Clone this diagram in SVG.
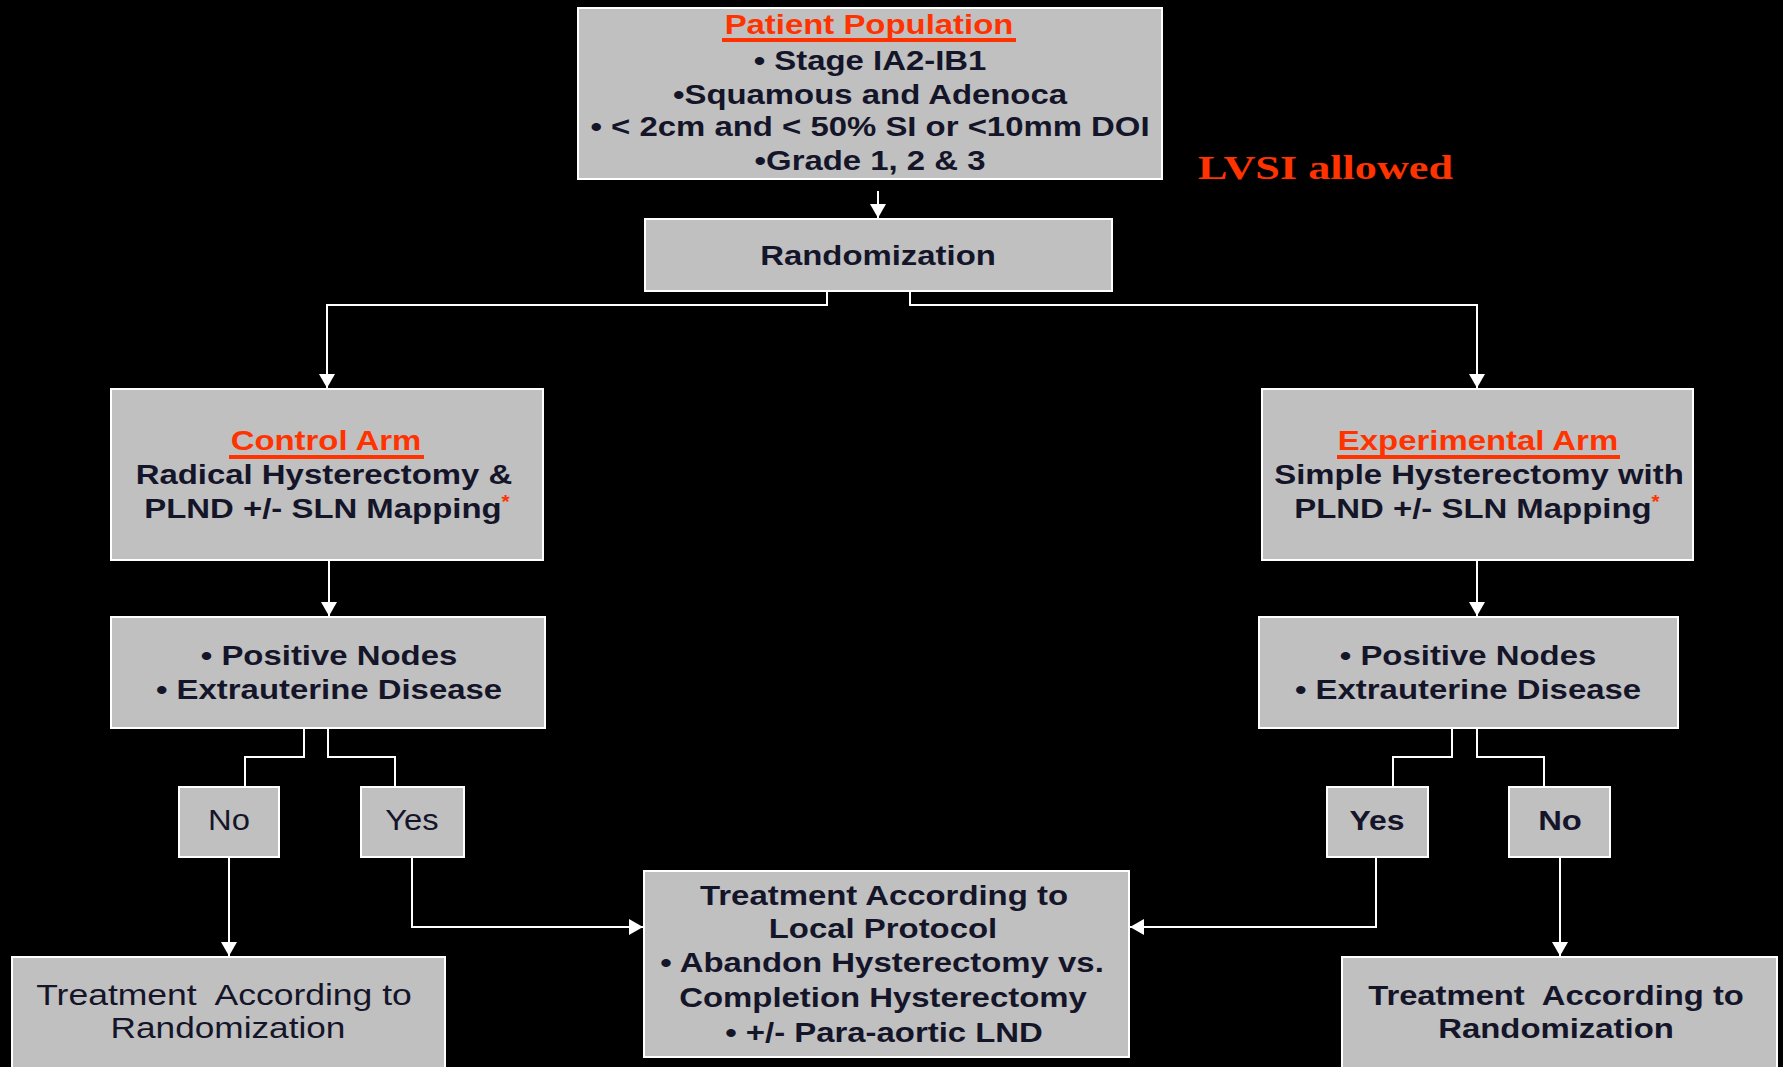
<svg xmlns="http://www.w3.org/2000/svg" width="1783" height="1067" viewBox="0 0 1783 1067">
<defs>
<marker id="arr" markerUnits="userSpaceOnUse" markerWidth="16" markerHeight="16" refX="14" refY="8" orient="auto">
<path d="M0,0 L14,8 L0,16 z" fill="#ffffff"/>
</marker>
<style>
.box{fill:#c0c0c0;stroke:#ffffff;stroke-width:2}
.b{font-family:"Liberation Sans",Arial,sans-serif;font-weight:bold;font-size:28.5px;fill:#15152a;text-anchor:middle}
.r{font-family:"Liberation Sans",Arial,sans-serif;font-weight:normal;font-size:29px;fill:#15152a;text-anchor:middle;white-space:pre}
.red{fill:#ff3300}
.ul{stroke:#ff3300;stroke-width:4}
.ast{fill:#ff3300;font-size:18px}
.con{fill:none;stroke:#ffffff;stroke-width:2}
.lvsi{font-family:"Liberation Serif","Times New Roman",serif;font-weight:bold;font-size:33px;fill:#ff3300}
</style>
</defs>
<rect x="0" y="0" width="1783" height="1067" fill="#000000"/>

<g id="connectors">
<path class="con" d="M878 191 V218" marker-end="url(#arr)"/>
<path class="con" d="M827 291 V305 H327 V388" marker-end="url(#arr)"/>
<path class="con" d="M910 291 V305 H1477 V388" marker-end="url(#arr)"/>
<path class="con" d="M329 560 V616" marker-end="url(#arr)"/>
<path class="con" d="M1477 560 V616" marker-end="url(#arr)"/>
<path class="con" d="M304 728 V757 H245 V787"/>
<path class="con" d="M328 728 V757 H395 V787"/>
<path class="con" d="M1452 728 V757 H1393 V787"/>
<path class="con" d="M1477 728 V757 H1544 V787"/>
<path class="con" d="M229 857 V956" marker-end="url(#arr)"/>
<path class="con" d="M412 857 V927 H643" marker-end="url(#arr)"/>
<path class="con" d="M1376 857 V927 H1130" marker-end="url(#arr)"/>
<path class="con" d="M1560 857 V956" marker-end="url(#arr)"/>
</g>

<g id="patient-population">
<rect class="box" x="578" y="8" width="584" height="171"/>
<text class="b red" transform="translate(869 34) scale(1.155 1)">Patient Population</text>
<line class="ul" x1="722" y1="40" x2="1016" y2="40"/>
<text class="b" transform="translate(870 70) scale(1.155 1)">• Stage IA2-IB1</text>
<text class="b" transform="translate(870 104) scale(1.155 1)">•Squamous and Adenoca</text>
<text class="b" transform="translate(870 136) scale(1.155 1)">• &lt; 2cm and &lt; 50% SI or &lt;10mm DOI</text>
<text class="b" transform="translate(870 170) scale(1.155 1)">•Grade 1, 2 &amp; 3</text>
</g>

<g id="lvsi-note">
<text class="lvsi" x="1198" y="179" textLength="255" lengthAdjust="spacingAndGlyphs">LVSI allowed</text>
</g>

<g id="randomization">
<rect class="box" x="645" y="219" width="467" height="72"/>
<text class="b" transform="translate(878 265) scale(1.155 1)">Randomization</text>
</g>

<g id="control-arm">
<rect class="box" x="111" y="389" width="432" height="171"/>
<text class="b red" transform="translate(326 450) scale(1.155 1)">Control Arm</text>
<line class="ul" x1="229" y1="457" x2="424" y2="457"/>
<text class="b" transform="translate(324 484) scale(1.155 1)">Radical Hysterectomy &amp;</text>
<text class="b" transform="translate(327 518) scale(1.155 1)">PLND +/- SLN Mapping<tspan class="ast" dy="-10">*</tspan></text>
</g>

<g id="experimental-arm">
<rect class="box" x="1262" y="389" width="431" height="171"/>
<text class="b red" transform="translate(1478 450) scale(1.155 1)">Experimental Arm</text>
<line class="ul" x1="1337" y1="457" x2="1620" y2="457"/>
<text class="b" transform="translate(1479 484) scale(1.155 1)">Simple Hysterectomy with</text>
<text class="b" transform="translate(1477 518) scale(1.155 1)">PLND +/- SLN Mapping<tspan class="ast" dy="-10">*</tspan></text>
</g>

<g id="positive-left">
<rect class="box" x="111" y="617" width="434" height="111"/>
<text class="b" transform="translate(329 665) scale(1.155 1)">• Positive Nodes</text>
<text class="b" transform="translate(329 699) scale(1.155 1)">• Extrauterine Disease</text>
</g>

<g id="positive-right">
<rect class="box" x="1259" y="617" width="419" height="111"/>
<text class="b" transform="translate(1468 665) scale(1.155 1)">• Positive Nodes</text>
<text class="b" transform="translate(1468 699) scale(1.155 1)">• Extrauterine Disease</text>
</g>

<g id="no-left">
<rect class="box" x="179" y="787" width="100" height="70"/>
<text class="r" transform="translate(229 830) scale(1.13 1)">No</text>
</g>

<g id="yes-left">
<rect class="box" x="361" y="787" width="103" height="70"/>
<text class="r" transform="translate(412 830) scale(1.13 1)">Yes</text>
</g>

<g id="yes-right">
<rect class="box" x="1327" y="787" width="101" height="70"/>
<text class="b" transform="translate(1377 830) scale(1.12 1)">Yes</text>
</g>

<g id="no-right">
<rect class="box" x="1509" y="787" width="101" height="70"/>
<text class="b" transform="translate(1560 830) scale(1.15 1)">No</text>
</g>

<g id="treatment-left">
<rect class="box" x="12" y="957" width="433" height="120"/>
<text class="r" transform="translate(224 1005) scale(1.225 1)">Treatment  According to</text>
<text class="r" transform="translate(228 1038) scale(1.215 1)">Randomization</text>
</g>

<g id="treatment-local">
<rect class="box" x="644" y="871" width="485" height="186"/>
<text class="b" transform="translate(884 905) scale(1.155 1)">Treatment According to</text>
<text class="b" transform="translate(883 938) scale(1.155 1)">Local Protocol</text>
<text class="b" transform="translate(882 972) scale(1.155 1)">• Abandon Hysterectomy vs.</text>
<text class="b" transform="translate(883 1007) scale(1.155 1)">Completion Hysterectomy</text>
<text class="b" transform="translate(884 1042) scale(1.155 1)">• +/- Para-aortic LND</text>
</g>

<g id="treatment-right">
<rect class="box" x="1342" y="957" width="435" height="120"/>
<text class="b" transform="translate(1556 1005) scale(1.15 1)" style="white-space:pre">Treatment  According to</text>
<text class="b" transform="translate(1556 1038) scale(1.155 1)">Randomization</text>
</g>
</svg>
